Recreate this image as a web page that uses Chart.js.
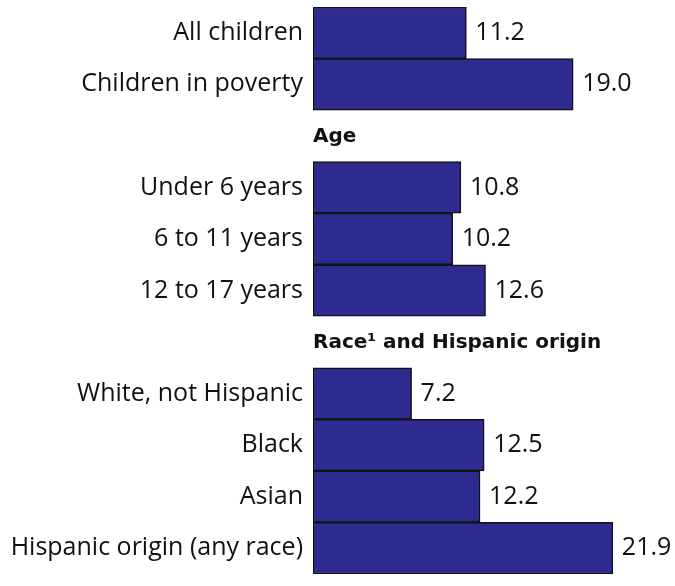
<!DOCTYPE html>
<html>
<head>
<meta charset="utf-8">
<script src="https://cdn.jsdelivr.net/npm/chart.js@4.4.1/dist/chart.umd.min.js"></script>
<style>
  html, body { margin: 0; padding: 0; background: #fff; }
  #wrap { width: 675px; height: 586px; }
</style>
</head>
<body>
<div id="wrap"><canvas id="chart"></canvas></div>
<script>
// rows, top to bottom; empty strings are the section heading rows
const categories = ['All children', 'Children in poverty', '', 'Under 6 years', '6 to 11 years', '12 to 17 years', '', 'White, not Hispanic', 'Black', 'Asian', 'Hispanic origin (any race)'];
const values = [11.2, 19.0, null, 10.8, 10.2, 12.6, null, 7.2, 12.5, 12.2, 21.9];
const headings = ['', '', 'Age', '', '', '', 'Race\u00b9 and Hispanic origin', '', '', '', ''];

const FONT = '"Open Sans", sans-serif';
const HEAD_FONT = '"DejaVu Sans", sans-serif';

// value printed right of each bar, headings printed in the empty rows
const barLabels = {
  id: 'barLabels',
  afterDatasetsDraw(chart) {
    const ctx = chart.ctx;
    const meta = chart.getDatasetMeta(0);
    const yScale = chart.scales.y;
    ctx.save();
    ctx.fillStyle = '#111';
    ctx.textBaseline = 'middle';
    ctx.textAlign = 'left';
    ctx.font = '25px ' + FONT;
    meta.data.forEach((bar, i) => {
      if (values[i] == null) return;
      ctx.fillText(values[i].toFixed(1), bar.x + 9, bar.y);
    });
    ctx.font = 'bold 20px ' + HEAD_FONT;
    headings.forEach((h, i) => {
      if (!h) return;
      ctx.fillText(h, chart.chartArea.left, yScale.getPixelForValue(i) + 1);
    });
    ctx.restore();
  }
};

new Chart(document.getElementById('chart'), {
  type: 'bar',
  data: {
    labels: categories,
    datasets: [{
      data: values,
      backgroundColor: '#2d2b8f',
      borderColor: '#111',
      borderWidth: 1.5,
      borderSkipped: false,
      barPercentage: 1,
      categoryPercentage: 1
    }]
  },
  options: {
    indexAxis: 'y',
    responsive: true,
    maintainAspectRatio: false,
    animation: false,
    layout: { padding: { top: 7, right: 6, bottom: 12, left: 0 } },
    plugins: {
      legend: { display: false },
      tooltip: { enabled: false }
    },
    scales: {
      x: {
        display: false,
        min: 0,
        max: 26
      },
      y: {
        grid: { display: false, drawTicks: false },
        border: { display: false },
        ticks: {
          padding: 10,
          color: '#111',
          font: { family: FONT, size: 25 }
        },
        afterFit(scale) {
          scale.width = 313;
          scale.paddingTop = 0;
          scale.paddingBottom = 0;
        }
      }
    }
  },
  plugins: [barLabels]
});
</script>
</body>
</html>
